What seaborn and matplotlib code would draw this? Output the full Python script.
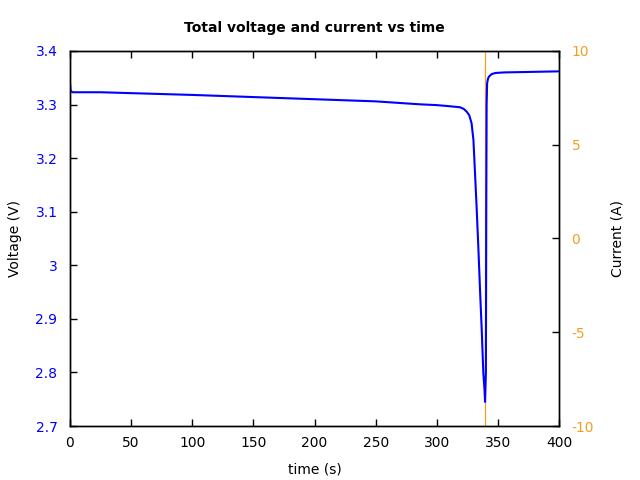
import matplotlib
matplotlib.use("Agg")
import matplotlib.pyplot as plt
import matplotlib.ticker as mticker
import seaborn as sns
import pandas as pd

# Voltage data
time_v = [0, 0.5, 2, 25, 100, 150, 200, 250, 286, 300, 310, 319, 322, 324.4, 326.6,
          328.5, 330, 331.3, 332.6, 334, 335.4, 336.8, 338.1, 339.1, 339.5,
          340.2, 340.5, 340.8, 341.2, 342, 343, 345, 348, 355, 400]
voltage = [3.340, 3.326, 3.323, 3.323, 3.318, 3.314, 3.310, 3.306, 3.3005, 3.299, 3.297, 3.295,
           3.292, 3.287, 3.280, 3.265, 3.234, 3.172, 3.109, 3.035, 2.954, 2.879, 2.799,
           2.767, 2.745, 2.80, 3.10, 3.30, 3.340, 3.349, 3.353, 3.357, 3.359, 3.360, 3.362]

# Current data (off-scale except the step)
time_i = [0, 339.5, 339.5, 400]
current = [-20, -20, 20, 20]

title = "Total voltage and current vs time"
xlabel = "time (s)"
ylabel_left = "Voltage (V)"
ylabel_right = "Current (A)"
xticks = [0, 50, 100, 150, 200, 250, 300, 350, 400]
vticks = [2.7, 2.8, 2.9, 3.0, 3.1, 3.2, 3.3, 3.4]
iticks = [-10, -5, 0, 5, 10]

sns.set_style("ticks")
plt.rcParams["font.family"] = ["DejaVu Sans"]
plt.rcParams["axes.unicode_minus"] = False
plt.rcParams["text.color"] = "black"
plt.rcParams["axes.labelcolor"] = "black"

BLUE = "#0000ff"
ORANGE = "#f0a020"

fig = plt.figure(figsize=(6.4, 4.8), dpi=100)
ax = fig.add_axes([70/640, 1 - 426/480, (559-70)/640, (426-51)/480])
ax2 = ax.twinx()

dfv = pd.DataFrame({"t": time_v, "v": voltage})
dfi = pd.DataFrame({"t": time_i, "i": current})

sns.lineplot(data=dfi, x="t", y="i", ax=ax2, color=ORANGE, lw=0.9, sort=False, estimator=None)
sns.lineplot(data=dfv, x="t", y="v", ax=ax, color=BLUE, lw=1.5, sort=False, estimator=None)
ax.set_zorder(ax2.get_zorder() + 1)
ax.patch.set_visible(False)

ax.set_xlim(0, 400)
ax.set_ylim(2.7, 3.4)
ax2.set_ylim(-10, 10)
ax.set_xticks(xticks)
ax.set_yticks(vticks)
ax2.set_yticks(iticks)
ax.yaxis.set_major_formatter(mticker.FuncFormatter(lambda v, p: f"{v:g}"))
ax2.yaxis.set_major_formatter(mticker.FuncFormatter(lambda v, p: f"{v:g}"))

ax.tick_params(axis="x", direction="in", top=True, bottom=True, length=5, width=1,
               labelsize=10, pad=7, colors="black")
ax.tick_params(axis="y", direction="in", left=True, right=False, length=5, width=1,
               labelsize=10, pad=9, labelcolor=BLUE, color="black")
ax2.tick_params(axis="y", direction="in", right=True, length=5, width=1,
                labelsize=10, pad=9, labelcolor=ORANGE, color="black")

for a in (ax, ax2):
    for s in a.spines.values():
        s.set_color("black")
        s.set_linewidth(1)

ax.set_xlabel(xlabel, fontsize=10, labelpad=9, color="black")
ax.set_ylabel(ylabel_left, fontsize=10, labelpad=10, color="black")
ax2.set_ylabel(ylabel_right, fontsize=10, labelpad=12, color="black")
ax.set_title(title, fontsize=10, fontweight="bold", pad=14, color="black")

fig.savefig("out.png", dpi=100)
